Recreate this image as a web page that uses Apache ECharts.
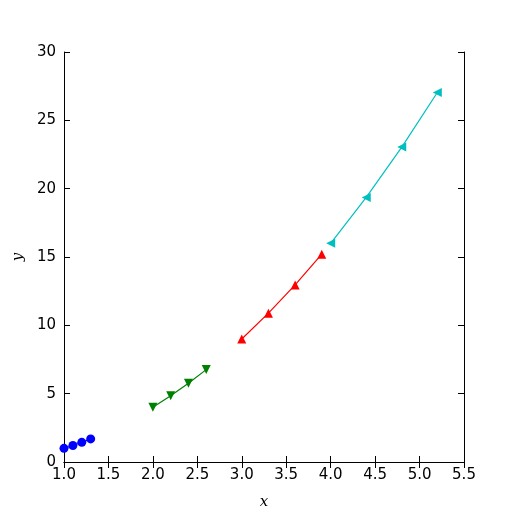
<!DOCTYPE html>
<html><head><meta charset="utf-8">
<script src="https://cdn.jsdelivr.net/npm/echarts@6/dist/echarts.min.js"></script>
<style>html,body{margin:0;padding:0;background:#fff}#c{width:515px;height:515px}</style>
</head><body><div id="c"></div>
<script>
const x1 = [1.0, 1.1, 1.2, 1.3];
const y1 = [1.0, 1.21, 1.44, 1.69];
const x2 = [2.0, 2.2, 2.4, 2.6];
const y2 = [4.0, 4.84, 5.76, 6.76];
const x3 = [3.0, 3.3, 3.6, 3.9];
const y3 = [9.0, 10.89, 12.96, 15.21];
const x4 = [4.0, 4.4, 4.8, 5.2];
const y4 = [16.0, 19.36, 23.04, 27.04];
const xTicks = [1.0, 1.5, 2.0, 2.5, 3.0, 3.5, 4.0, 4.5, 5.0, 5.5];
const yTicks = [0, 5, 10, 15, 20, 25, 30];

const pair = (xs, ys) => xs.map((v, i) => [v, ys[i]]);
const font = {fontFamily: 'DejaVu Sans', fontSize: 15, color: '#000'};
const axisCommon = {
  axisLine: {show: true, lineStyle: {color: '#000', width: 1}},
  axisTick: {show: true, inside: true, length: 6, lineStyle: {color: '#000'}},
  splitLine: {show: false}
};
const chart = echarts.init(document.getElementById('c'));
chart.setOption({
  animation: false,
  grid: {left: 64, right: 51, top: 52, bottom: 52},
  xAxis: [
    Object.assign({type: 'value', min: xTicks[0], max: xTicks[xTicks.length-1], interval: 0.5,
      position: 'bottom',
      axisLabel: Object.assign({margin: 6, formatter: v => v.toFixed(1)}, font),
      name: 'x', nameLocation: 'middle', nameGap: 33,
      nameTextStyle: {fontFamily: 'DejaVu Serif', fontStyle: 'italic', fontSize: 15, color: '#000'}
    }, axisCommon),
    Object.assign({type: 'value', min: xTicks[0], max: xTicks[xTicks.length-1], interval: 0.5,
      position: 'top', axisLabel: {show: false}}, axisCommon)
  ],
  yAxis: [
    Object.assign({type: 'value', min: yTicks[0], max: yTicks[yTicks.length-1], interval: 5,
      position: 'left',
      axisLabel: Object.assign({margin: 8}, font),
      name: 'y', nameLocation: 'middle', nameGap: 36, nameRotate: 90,
      nameTextStyle: {fontFamily: 'DejaVu Serif', fontStyle: 'italic', fontSize: 15, color: '#000'}
    }, axisCommon),
    Object.assign({type: 'value', min: yTicks[0], max: yTicks[yTicks.length-1], interval: 5,
      position: 'right', axisLabel: {show: false}}, axisCommon)
  ],
  series: [
    {type: 'line', data: pair(x1, y1), symbol: 'circle', symbolSize: 9, color: '#0000ff',
      lineStyle: {width: 1.2}, itemStyle: {color: '#0000ff'}},
    {type: 'line', data: pair(x2, y2), symbol: 'triangle', symbolRotate: 180, symbolSize: 9, color: '#008000',
      lineStyle: {width: 1.2}, itemStyle: {color: '#008000'}},
    {type: 'line', data: pair(x3, y3), symbol: 'triangle', symbolSize: 9, color: '#ff0000',
      lineStyle: {width: 1.2}, itemStyle: {color: '#ff0000'}},
    {type: 'line', data: pair(x4, y4), symbol: 'triangle', symbolRotate: 90, symbolSize: 9, color: '#00bfbf',
      lineStyle: {width: 1.2}, itemStyle: {color: '#00bfbf'}}
  ]
});
</script></body></html>
